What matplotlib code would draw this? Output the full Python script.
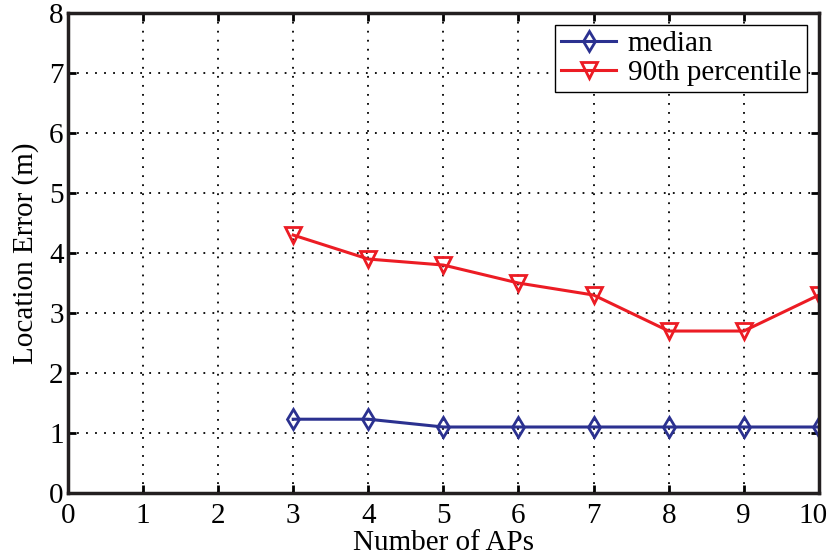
import matplotlib
matplotlib.use("Agg")
import matplotlib.pyplot as plt
from matplotlib.transforms import ScaledTranslation

# data
num_aps = [3, 4, 5, 6, 7, 8, 9, 10]
median_err = [1.23, 1.23, 1.1, 1.1, 1.1, 1.1, 1.1, 1.1]
p90_err = [4.3, 3.9, 3.8, 3.5, 3.3, 2.7, 2.7, 3.3]

plt.rcParams['font.family'] = ['Liberation Serif', 'DejaVu Serif']

fig = plt.figure(figsize=(8.28, 5.58), dpi=100)
ax = fig.add_axes([0.082, 0.1165, 0.907, 0.86])

ax.plot(num_aps, median_err, color='#2b3190', marker='d', markersize=10,
        markerfacecolor='none', markeredgewidth=2, linewidth=2.2, label='median')
ax.plot(num_aps, p90_err, color='#ec1c24', marker='v', markersize=11,
        markerfacecolor='none', markeredgewidth=2, linewidth=2.2, label='90th percentile')

ax.set_xlim(0, 10)
ax.set_ylim(0, 8)
ax.set_xticks(range(0, 11))
ax.set_yticks(range(0, 9))
ax.grid(True, color='black', linestyle=(0, (1, 4)), linewidth=1.3)
ax.tick_params(direction='in', top=True, right=True, length=6, width=2,
               labelsize=21)
ax.tick_params(axis='x', pad=7)
ax.tick_params(axis='y', pad=3)
for s in ax.spines.values():
    s.set_linewidth(2.5)
    s.set_color('#231f20')

# nudge the last x label so it stays inside the figure
last = ax.get_xticklabels()[-1]
last.set_transform(last.get_transform() + ScaledTranslation(-6 / 100, 0, fig.dpi_scale_trans))

ax.set_xlabel('Number of APs', fontsize=21, labelpad=1)
ax.set_ylabel('Location Error (m)', fontsize=21, labelpad=7)

leg = ax.legend(loc='upper right', fontsize=21, fancybox=False, framealpha=1,
                edgecolor='black', handlelength=1.9, borderpad=0.2,
                labelspacing=0.1, handletextpad=0.4, borderaxespad=0.4)
leg.get_frame().set_linewidth(1.0)

fig.savefig('out.png', dpi=100)
